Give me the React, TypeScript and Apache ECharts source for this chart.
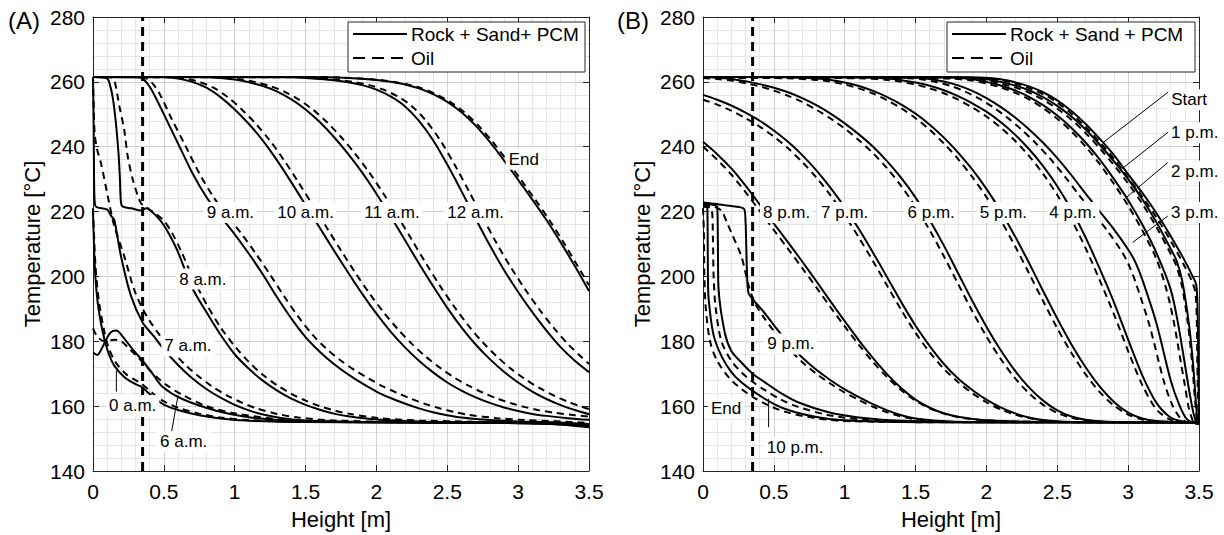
import React, { useEffect, useRef } from 'react';
import * as echarts from 'echarts';

type P = [number, number];

// ---------- shared axis values ----------
const X_MIN = 0;
const X_MAX = 3.5;
const X_STEP = 0.5;
const Y_MIN = 140;
const Y_MAX = 280;
const Y_STEP = 20;
const LAYER_MARK = 0.35; // vertical dashed reference line [m]

// ---------- Panel (A): charging ----------
const A_0AM_ROCK: P[] = [[0,220],[0.004,214],[0.014,202],[0.033,192],[0.068,183],[0.104,177],[0.15,172.5],[0.22,169],[0.29,167],[0.34,166],[0.42,163],[0.5,160.5],[0.6,158.8],[0.75,157.2],[0.9,156.2],[1.1,155.5],[1.5,155.1],[2.5,154.9],[3.2,154.6],[3.5,153.8]];
const A_0AM_OIL: P[] = [[0,221],[0.006,214],[0.018,203],[0.04,193],[0.075,184],[0.11,178],[0.16,173.5],[0.23,170],[0.3,168],[0.34,167],[0.42,164],[0.5,161.5],[0.6,159.5],[0.75,157.7],[0.9,156.5],[1.1,155.7],[1.5,155.2],[2.5,155],[3.2,154.7],[3.5,154]];
const A_6AM_ROCK: P[] = [[0,176.5],[0.03,175.8],[0.07,178.5],[0.12,182.5],[0.165,183.3],[0.2,182],[0.28,177.5],[0.35,174],[0.42,170],[0.49,166],[0.63,162.2],[0.87,158.6],[1.1,156.6],[1.34,155.6],[1.7,155.1],[2.5,154.9],[3.2,154.6],[3.5,153.5]];
const A_6AM_OIL: P[] = [[0,184],[0.03,181.5],[0.08,180],[0.15,180.5],[0.2,180],[0.26,177.5],[0.32,175],[0.38,172],[0.45,169],[0.52,166.5],[0.63,163.5],[0.8,160],[1.0,157.8],[1.3,156],[1.6,155.3],[2.5,155],[3.2,154.7],[3.5,154]];
const A_7AM_ROCK: P[] = [[0,261.5],[0.003,252],[0.006,238],[0.009,226],[0.015,222],[0.03,221.3],[0.1,220.6],[0.13,218.5],[0.15,217.5],[0.197,206.3],[0.268,194],[0.35,185.8],[0.43,181.5],[0.5,177.5],[0.6,172.7],[0.7,168.6],[0.8,165.3],[0.9,162.6],[1.0,160.4],[1.1,158.7],[1.2,157.4],[1.35,156.2],[1.5,155.6],[1.8,155.2],[2.5,155],[3.2,154.7],[3.5,153.8]];
const A_7AM_OIL: P[] = [[0,261.5],[0.004,254],[0.012,244],[0.03,239],[0.056,235],[0.104,224.8],[0.15,215.6],[0.22,206.3],[0.29,196],[0.35,190],[0.4,186.3],[0.46,182.5],[0.55,177.5],[0.65,172.8],[0.75,169],[0.85,165.8],[0.95,163.2],[1.05,161.1],[1.15,159.4],[1.3,157.6],[1.45,156.5],[1.7,155.6],[2.2,155.1],[3.2,154.8],[3.5,154]];
const A_8AM_ROCK: P[] = [[0,261.5],[0.1,261],[0.12,259],[0.14,255],[0.16,248],[0.18,238],[0.19,230],[0.197,223],[0.21,221.5],[0.27,221],[0.34,220.3],[0.375,221],[0.4,220.5],[0.45,218.5],[0.5,215.8],[0.55,212],[0.6,207.5],[0.7,196.5],[0.8,189],[0.9,182],[1.0,176],[1.1,171.5],[1.2,167.8],[1.3,164.8],[1.4,162.3],[1.5,160.4],[1.6,158.9],[1.7,157.7],[1.8,156.9],[2.0,155.9],[2.3,155.3],[2.7,155],[3.2,154.7],[3.5,153.8]];
const A_8AM_OIL: P[] = [[0,261.5],[0.12,261.4],[0.15,260.5],[0.186,252.5],[0.22,245.3],[0.245,237],[0.28,230],[0.315,225],[0.34,222.5],[0.37,221.5],[0.42,220],[0.5,217.2],[0.56,213.2],[0.62,208],[0.7,200],[0.8,191.5],[0.9,184.3],[1.0,178.5],[1.1,173.6],[1.2,169.6],[1.3,166.4],[1.4,163.8],[1.5,161.7],[1.6,160],[1.7,158.7],[1.8,157.7],[2.0,156.4],[2.3,155.6],[2.7,155.2],[3.2,154.8],[3.5,154]];
const A_9AM_ROCK: P[] = [[0,261.5],[0.3,261.4],[0.35,261],[0.4,258.5],[0.45,254.5],[0.5,250],[0.6,241],[0.7,232],[0.8,224.5],[0.9,218.5],[1.0,213],[1.1,207],[1.2,200.5],[1.3,193.5],[1.4,187],[1.5,181.3],[1.6,176.8],[1.7,173],[1.8,169.8],[1.9,167],[2.0,164.5],[2.1,162.5],[2.2,160.8],[2.3,159.3],[2.4,158.1],[2.5,157.2],[2.6,156.5],[2.8,155.7],[3.0,155.3],[3.25,155],[3.5,154.5]];
const A_9AM_OIL: P[] = [[0,261.5],[0.33,261.5],[0.38,261],[0.43,259],[0.48,255.5],[0.55,249],[0.65,240.5],[0.75,231.8],[0.85,224.5],[0.95,218.5],[1.05,213],[1.15,207],[1.25,200.5],[1.35,193.8],[1.45,187.5],[1.55,182],[1.65,177.6],[1.75,174],[1.85,171],[1.95,168.4],[2.05,166],[2.15,164],[2.25,162.2],[2.35,160.6],[2.45,159.3],[2.55,158.2],[2.65,157.3],[2.85,156.3],[3.05,155.7],[3.3,155.3],[3.5,154.8]];
const A_10AM_ROCK: P[] = [[0,261.5],[0.5,261.4],[0.6,261],[0.7,260],[0.8,258.2],[0.9,255.3],[1.0,251.5],[1.1,247],[1.2,241.8],[1.3,235.7],[1.4,229],[1.5,222],[1.6,215],[1.7,208],[1.8,201.2],[1.9,194.6],[2.0,188.5],[2.1,183],[2.2,178.2],[2.3,174],[2.4,170.4],[2.5,167.3],[2.6,164.8],[2.7,162.7],[2.8,161],[2.9,159.6],[3.0,158.5],[3.1,157.6],[3.2,157],[3.35,156.3],[3.5,155.8]];
const A_10AM_OIL: P[] = [[0,261.5],[0.55,261.4],[0.65,261],[0.75,260],[0.85,258.2],[0.95,255.3],[1.05,251.5],[1.15,247],[1.25,241.8],[1.35,235.7],[1.45,229],[1.55,222],[1.65,215],[1.75,208],[1.85,201.2],[1.95,194.8],[2.05,189],[2.15,183.8],[2.25,179.2],[2.35,175.2],[2.45,171.8],[2.55,168.8],[2.65,166.3],[2.75,164.2],[2.85,162.4],[2.95,160.9],[3.05,159.7],[3.15,158.7],[3.25,158],[3.4,157.2],[3.5,156.8]];
const A_11AM_ROCK: P[] = [[0,261.5],[0.8,261.4],[0.9,261.2],[1.0,260.7],[1.1,259.9],[1.2,258.7],[1.3,257],[1.4,254.6],[1.5,251.5],[1.6,247.6],[1.7,243],[1.8,237.8],[1.9,232],[2.0,225.5],[2.1,218.5],[2.2,211.3],[2.3,204],[2.4,197],[2.5,190.3],[2.6,184.3],[2.7,179],[2.8,174.5],[2.9,170.6],[3.0,167.3],[3.1,164.5],[3.2,162.2],[3.3,160.3],[3.4,158.8],[3.5,157.5]];
const A_11AM_OIL: P[] = [[0,261.5],[0.85,261.4],[0.95,261.2],[1.05,260.7],[1.15,259.9],[1.25,258.7],[1.35,257],[1.45,254.6],[1.55,251.5],[1.65,247.6],[1.75,243],[1.85,237.8],[1.95,232],[2.05,225.5],[2.15,218.5],[2.25,211.3],[2.35,204],[2.45,197],[2.55,190.6],[2.65,184.8],[2.75,179.7],[2.85,175.3],[2.95,171.5],[3.05,168.3],[3.15,165.6],[3.25,163.3],[3.35,161.4],[3.45,159.8],[3.5,159.1]];
const A_12AM_ROCK: P[] = [[0,261.5],[1.4,261.4],[1.5,261.2],[1.6,260.9],[1.7,260.5],[1.8,259.9],[1.9,259],[2.0,257.6],[2.1,255.5],[2.2,252.5],[2.3,248],[2.4,242],[2.5,234.5],[2.6,226.3],[2.7,217.8],[2.8,209.6],[2.9,202],[3.0,195.2],[3.1,189],[3.2,183.3],[3.3,178.2],[3.4,174],[3.5,170.5]];
const A_12AM_OIL: P[] = [[0,261.5],[1.45,261.4],[1.55,261.2],[1.65,260.9],[1.75,260.5],[1.85,259.9],[1.95,259],[2.05,257.6],[2.15,255.5],[2.25,252.5],[2.35,248],[2.45,242],[2.55,234.6],[2.65,226.5],[2.75,218.2],[2.85,210.1],[2.95,202.7],[3.05,196],[3.15,189.8],[3.25,184.2],[3.35,179.2],[3.45,175],[3.5,173]];
const A_END_ROCK: P[] = [[0,261.5],[1.5,261.5],[1.8,261.2],[2.0,260.6],[2.1,260],[2.2,259.2],[2.3,258],[2.4,256.2],[2.5,253.8],[2.6,250.6],[2.7,246.5],[2.8,241.5],[2.9,235.8],[3.0,229.8],[3.1,223.7],[3.2,217.4],[3.3,210.5],[3.4,203.2],[3.5,195.5]];
const A_END_OIL: P[] = [[0,261.5],[1.52,261.5],[1.82,261.2],[2.02,260.6],[2.12,260],[2.22,259.2],[2.32,258],[2.42,256.2],[2.52,253.8],[2.62,250.6],[2.72,246.5],[2.82,241.5],[2.92,235.8],[3.02,229.8],[3.12,223.7],[3.22,217.4],[3.32,210.5],[3.42,203.2],[3.5,197.3]];

// ---------- Panel (B): discharging ----------
const B_START_ROCK: P[] = [[0,261.5],[1.9,261.4],[2.1,260.8],[2.2,259.9],[2.3,258.6],[2.4,256.8],[2.5,254.3],[2.6,251],[2.7,247],[2.8,242.4],[2.9,237.4],[3.0,231.5],[3.1,225.8],[3.2,219.5],[3.3,212.5],[3.4,204.8],[3.45,200.5],[3.48,197.5],[3.49,190],[3.495,172],[3.5,155]];
const B_START_OIL: P[] = [[0,261.3],[1.9,261.2],[2.1,260.5],[2.2,259.5],[2.3,258.1],[2.4,256.2],[2.5,253.6],[2.6,250.2],[2.7,246.1],[2.8,241.4],[2.9,236.3],[3.0,230.4],[3.1,224.6],[3.2,218.2],[3.3,211],[3.4,203],[3.45,198.5],[3.475,195],[3.485,185],[3.49,168],[3.5,154.5]];
const B_1PM_ROCK: P[] = [[0,261.5],[1.8,261.4],[2.0,260.8],[2.1,260],[2.2,258.9],[2.3,257.4],[2.4,255.3],[2.5,252.6],[2.6,249.3],[2.7,245.3],[2.8,240.6],[2.9,235.5],[3.0,230],[3.1,223.8],[3.2,216.7],[3.3,208.5],[3.34,205],[3.38,199],[3.43,185],[3.46,172],[3.48,160],[3.49,155]];
const B_1PM_OIL: P[] = [[0,261.3],[1.8,261.1],[2.0,260.4],[2.1,259.5],[2.2,258.3],[2.3,256.7],[2.4,254.5],[2.5,251.7],[2.6,248.3],[2.7,244.2],[2.8,239.5],[2.9,234.3],[3.0,228.7],[3.1,222.4],[3.2,215.2],[3.3,207],[3.34,203.3],[3.38,197],[3.42,186],[3.45,174],[3.47,163],[3.485,155]];
const B_2PM_ROCK: P[] = [[0,261.5],[1.7,261.4],[1.9,260.8],[2.0,260],[2.1,258.9],[2.2,257.4],[2.3,255.4],[2.4,252.8],[2.5,249.6],[2.6,245.8],[2.7,241.3],[2.8,236],[2.9,230],[3.0,223.5],[3.1,216],[3.2,207.2],[3.3,196],[3.35,186],[3.4,173],[3.43,165],[3.46,158],[3.48,155]];
const B_2PM_OIL: P[] = [[0,261.3],[1.7,261.1],[1.9,260.4],[2.0,259.5],[2.1,258.3],[2.2,256.7],[2.3,254.6],[2.4,251.9],[2.5,248.6],[2.6,244.7],[2.7,240],[2.8,234.6],[2.9,228.5],[3.0,221.8],[3.1,214.2],[3.2,205.3],[3.27,196],[3.32,186.5],[3.37,174],[3.4,166.5],[3.43,159],[3.46,155]];
const B_3PM_ROCK: P[] = [[0,261.5],[1.5,261.3],[1.6,260.9],[1.7,260.1],[1.8,258.9],[1.9,257.2],[2.0,255],[2.1,252.3],[2.2,249.1],[2.3,245.4],[2.4,241.2],[2.5,236.5],[2.6,231.2],[2.7,225.5],[2.8,220],[2.9,214.5],[3.0,208.3],[3.05,204.5],[3.1,199],[3.2,185.5],[3.3,168],[3.36,160.5],[3.41,156.2],[3.45,155],[3.5,154.5]];
const B_3PM_OIL: P[] = [[0,261.3],[1.45,261.1],[1.55,260.7],[1.65,259.9],[1.75,258.7],[1.85,257],[1.95,254.8],[2.05,252.1],[2.15,248.9],[2.25,245.2],[2.35,241],[2.45,236.3],[2.55,231],[2.65,225.3],[2.75,219.8],[2.85,214.3],[2.95,208],[3.0,204],[3.05,198.5],[3.15,185],[3.25,168],[3.31,160.5],[3.37,156.2],[3.42,155],[3.5,154.5]];
const B_4PM_ROCK: P[] = [[0,261.5],[1.1,261.4],[1.3,261],[1.4,260.5],[1.5,259.8],[1.6,258.8],[1.7,257.4],[1.8,255.6],[1.9,253.4],[2.0,250.8],[2.1,247.6],[2.2,243.8],[2.3,239.3],[2.4,234],[2.5,227.8],[2.6,220.5],[2.7,212],[2.8,202.3],[2.9,192],[3.0,180.5],[3.1,169.5],[3.2,161],[3.3,156.5],[3.4,155.2],[3.5,155]];
const B_4PM_OIL: P[] = [[0,261.3],[1.1,261.1],[1.3,260.6],[1.4,260],[1.5,259.2],[1.6,258],[1.7,256.5],[1.8,254.5],[1.9,252.1],[2.0,249.3],[2.1,245.9],[2.2,241.9],[2.3,237.2],[2.4,231.6],[2.5,225.1],[2.6,217.5],[2.7,208.7],[2.8,198.8],[2.9,188.3],[3.0,177],[3.1,166.5],[3.2,159],[3.3,155.8],[3.4,155.1],[3.5,155]];
const B_5PM_ROCK: P[] = [[0,261.5],[0.6,261.4],[0.8,261],[0.9,260.6],[1.0,259.8],[1.1,258.7],[1.2,257.2],[1.3,255.3],[1.4,253],[1.5,250.2],[1.6,246.8],[1.7,242.8],[1.8,238.2],[1.9,233],[2.0,227],[2.1,220.2],[2.2,212.5],[2.3,204.2],[2.4,195.5],[2.5,187],[2.6,179],[2.7,172],[2.8,166],[2.9,161.3],[3.0,158],[3.1,156.2],[3.2,155.4],[3.35,155.1],[3.5,155]];
const B_5PM_OIL: P[] = [[0,261.3],[0.6,261.1],[0.8,260.6],[0.9,260.1],[1.0,259.2],[1.1,258],[1.2,256.4],[1.3,254.3],[1.4,251.8],[1.5,248.8],[1.6,245.2],[1.7,241],[1.8,236.2],[1.9,230.7],[2.0,224.5],[2.1,217.4],[2.2,209.5],[2.3,201],[2.4,192.4],[2.5,184],[2.6,176.4],[2.7,169.8],[2.8,164.3],[2.9,160.2],[3.0,157.4],[3.1,155.9],[3.2,155.3],[3.35,155.1],[3.5,155]];
const B_6PM_ROCK: P[] = [[0,261.5],[0.1,261.3],[0.2,260.9],[0.3,260.2],[0.4,259.3],[0.5,258.2],[0.6,256.8],[0.7,255],[0.8,252.8],[0.9,250.2],[1.0,247.2],[1.1,243.8],[1.2,240],[1.3,235.5],[1.4,230.3],[1.5,224.3],[1.6,217.3],[1.7,209.5],[1.8,201],[1.9,192.5],[2.0,184.5],[2.1,177.3],[2.2,171],[2.3,165.8],[2.4,161.7],[2.5,158.7],[2.6,156.8],[2.7,155.8],[2.85,155.2],[3.1,155],[3.5,155]];
const B_6PM_OIL: P[] = [[0,261.2],[0.1,260.9],[0.2,260.4],[0.3,259.6],[0.4,258.6],[0.5,257.3],[0.6,255.7],[0.7,253.8],[0.8,251.4],[0.9,248.7],[1.0,245.6],[1.1,242],[1.2,238],[1.3,233.3],[1.4,227.8],[1.5,221.5],[1.6,214.2],[1.7,206.2],[1.8,197.7],[1.9,189.3],[2.0,181.5],[2.1,174.6],[2.2,168.7],[2.3,164],[2.4,160.4],[2.5,157.9],[2.6,156.4],[2.7,155.6],[2.85,155.1],[3.1,155],[3.5,155]];
const B_7PM_ROCK: P[] = [[0,256],[0.1,254.5],[0.2,252.7],[0.3,250.5],[0.4,248],[0.5,245],[0.6,241.5],[0.7,237.4],[0.8,232.7],[0.9,227.3],[1.0,221.3],[1.1,214.6],[1.2,207.3],[1.3,199.7],[1.4,192],[1.5,184.8],[1.6,178.5],[1.7,173],[1.8,168.5],[1.9,165],[2.0,162],[2.1,159.6],[2.2,157.8],[2.3,156.5],[2.4,155.7],[2.55,155.2],[2.8,155],[3.5,155]];
const B_7PM_OIL: P[] = [[0,254.5],[0.1,253],[0.2,251.1],[0.3,248.8],[0.4,246.2],[0.5,243.1],[0.6,239.5],[0.7,235.3],[0.8,230.5],[0.9,225],[1.0,218.8],[1.1,212],[1.2,204.7],[1.3,197.1],[1.4,189.6],[1.5,182.6],[1.6,176.6],[1.7,171.5],[1.8,167.4],[1.9,164],[2.0,161.2],[2.1,159],[2.2,157.4],[2.3,156.3],[2.4,155.6],[2.55,155.1],[2.8,155],[3.5,155]];
const B_8PM_ROCK: P[] = [[0,241.5],[0.1,237.7],[0.2,233.3],[0.3,228],[0.4,222.2],[0.5,216.3],[0.6,210.5],[0.7,204.6],[0.8,198.5],[0.9,192.3],[1.0,186.2],[1.1,180.3],[1.2,174.8],[1.3,169.8],[1.4,165.5],[1.5,162],[1.6,159.5],[1.7,157.8],[1.8,156.7],[1.95,155.8],[2.2,155.3],[2.6,155.1],[3.5,155]];
const B_8PM_OIL: P[] = [[0,240],[0.1,236],[0.2,231.4],[0.3,226],[0.4,220.2],[0.5,214.3],[0.6,208.5],[0.7,202.6],[0.8,196.6],[0.9,190.5],[1.0,184.6],[1.1,178.9],[1.2,173.6],[1.3,168.9],[1.4,164.9],[1.5,161.7],[1.6,159.3],[1.7,157.7],[1.8,156.6],[1.95,155.8],[2.2,155.3],[2.6,155.1],[3.5,155]];
const B_9PM_ROCK: P[] = [[0,222.8],[0.1,222.3],[0.2,221.7],[0.29,220.8],[0.3,217],[0.305,210],[0.31,202],[0.32,195],[0.35,193],[0.42,189.5],[0.5,185],[0.6,179.5],[0.7,175],[0.8,171.2],[0.9,168],[1.0,165.2],[1.1,162.8],[1.2,160.6],[1.3,158.7],[1.4,157.2],[1.5,156.2],[1.65,155.5],[1.9,155.1],[3.5,155]];
const B_9PM_OIL: P[] = [[0,222],[0.08,221.5],[0.13,220.3],[0.17,216.5],[0.2,213.5],[0.27,206.3],[0.317,198],[0.364,192],[0.435,187],[0.5,183.2],[0.6,178],[0.7,173.6],[0.8,170],[0.9,166.9],[1.0,164.2],[1.1,161.9],[1.2,159.8],[1.3,158.1],[1.4,156.8],[1.5,155.9],[1.65,155.3],[1.9,155.05],[3.5,155]];
const B_10PM_ROCK: P[] = [[0,222.5],[0.08,222],[0.1,221.5],[0.104,215],[0.106,205],[0.11,196],[0.153,182.8],[0.2,177],[0.27,173.5],[0.35,170],[0.435,167.4],[0.55,164],[0.67,161.2],[0.88,158.2],[1.1,156.5],[1.4,155.5],[2.0,155],[3.5,155]];
const B_10PM_OIL: P[] = [[0,221.5],[0.06,221],[0.07,212],[0.075,200],[0.09,190],[0.13,180],[0.2,174],[0.27,170.5],[0.35,167.5],[0.435,165],[0.55,162],[0.67,159.8],[0.88,157.3],[1.1,156],[1.4,155.3],[2.0,155],[3.5,155]];
const B_END_ROCK: P[] = [[0,222],[0.03,221.5],[0.033,212],[0.035,200],[0.04,193],[0.082,180.7],[0.2,170.5],[0.364,164.3],[0.576,159.2],[0.88,156.1],[1.2,155.3],[2.0,155],[3.5,155]];
const B_END_OIL: P[] = [[0,221],[0.006,214],[0.01,200],[0.02,190],[0.05,180],[0.1,174],[0.2,168],[0.364,162.5],[0.576,158.3],[0.88,155.8],[1.2,155.2],[2.0,155],[3.5,155]];

// ---------- annotations (text, x [m], T [°C]) ----------
const NOTES_A: [string, number, number][] = [
  ['9 a.m.', 0.97, 219.7], ['10 a.m.', 1.5, 219.7], ['11 a.m.', 2.11, 219.7], ['12 a.m.', 2.7, 219.7],
  ['End', 3.04, 236.1], ['8 a.m.', 0.775, 199.2], ['7 a.m.', 0.67, 178.6], ['0 a.m.', 0.28, 160.2], ['6 a.m.', 0.64, 149.1],
];
const NOTES_B: [string, number, number][] = [
  ['8 p.m.', 0.59, 219.7], ['7 p.m.', 1.0, 219.7], ['6 p.m.', 1.61, 219.7], ['5 p.m.', 2.12, 219.7], ['4 p.m.', 2.61, 219.7],
  ['9 p.m.', 0.62, 179.2], ['10 p.m.', 0.65, 147.4], ['End', 0.163, 159.2],
  ['Start', 3.43, 254.5], ['1 p.m.', 3.47, 244.3], ['2 p.m.', 3.47, 232.5], ['3 p.m.', 3.47, 219.7],
];
const LEADERS_A: P[][] = [
  [[0.165, 164.5], [0.165, 171]],
  [[0.552, 151.5], [0.6, 163.3]],
];
const LEADERS_B: P[][] = [
  [[3.29, 257.1], [2.821, 241.2]],
  [[3.291, 244.8], [2.951, 233.0]],
  [[3.279, 235.1], [2.986, 224.3]],
  [[3.279, 218.6], [3.032, 210.5]],
  [[0.463, 153.5], [0.463, 162.3]],
];

const CURVES_A: [string, P[], P[]][] = [
  ['0 a.m.', A_0AM_ROCK, A_0AM_OIL], ['6 a.m.', A_6AM_ROCK, A_6AM_OIL], ['7 a.m.', A_7AM_ROCK, A_7AM_OIL],
  ['8 a.m.', A_8AM_ROCK, A_8AM_OIL], ['9 a.m.', A_9AM_ROCK, A_9AM_OIL], ['10 a.m.', A_10AM_ROCK, A_10AM_OIL],
  ['11 a.m.', A_11AM_ROCK, A_11AM_OIL], ['12 a.m.', A_12AM_ROCK, A_12AM_OIL], ['End', A_END_ROCK, A_END_OIL],
];
const CURVES_B: [string, P[], P[]][] = [
  ['Start', B_START_ROCK, B_START_OIL], ['1 p.m.', B_1PM_ROCK, B_1PM_OIL], ['2 p.m.', B_2PM_ROCK, B_2PM_OIL],
  ['3 p.m.', B_3PM_ROCK, B_3PM_OIL], ['4 p.m.', B_4PM_ROCK, B_4PM_OIL], ['5 p.m.', B_5PM_ROCK, B_5PM_OIL],
  ['6 p.m.', B_6PM_ROCK, B_6PM_OIL], ['7 p.m.', B_7PM_ROCK, B_7PM_OIL], ['8 p.m.', B_8PM_ROCK, B_8PM_OIL],
  ['9 p.m.', B_9PM_ROCK, B_9PM_OIL], ['10 p.m.', B_10PM_ROCK, B_10PM_OIL], ['End', B_END_ROCK, B_END_OIL],
];

const FONT = "'Liberation Sans', Arial, Helvetica, sans-serif";
const INK = '#000';
const FRAME = '#262626';

function buildOption() {
  const grids = [
    { left: 93, top: 17, width: 496, height: 456 },
    { left: 703, top: 17, width: 496, height: 456 },
  ];
  const xAxis: any[] = [];
  const yAxis: any[] = [];
  grids.forEach((_, gi) => {
    xAxis.push({
      type: 'value', gridIndex: gi, min: X_MIN, max: X_MAX, interval: X_STEP, position: 'bottom',
      name: 'Height [m]', nameLocation: 'middle', nameGap: 37,
      nameTextStyle: { fontSize: 22, color: INK, fontFamily: FONT },
      axisLine: { show: true, onZero: false, lineStyle: { color: FRAME, width: 1 } },
      axisTick: { show: true, inside: true, length: 6, lineStyle: { color: FRAME } },
      axisLabel: { fontSize: 21, color: INK, margin: 10, fontFamily: FONT },
      splitLine: { show: true, lineStyle: { color: '#cfcfcf', width: 1 } },
      minorTick: { show: false, splitNumber: 5 },
      minorSplitLine: { show: true, lineStyle: { color: '#e6e6e6', width: 1 } },
    });
    xAxis.push({
      type: 'value', gridIndex: gi, min: X_MIN, max: X_MAX, interval: X_STEP, position: 'top',
      axisLine: { show: true, onZero: false, lineStyle: { color: FRAME, width: 1 } },
      axisTick: { show: true, inside: true, length: 6, lineStyle: { color: FRAME } },
      axisLabel: { show: false }, splitLine: { show: false },
    });
    yAxis.push({
      type: 'value', gridIndex: gi, min: Y_MIN, max: Y_MAX, interval: Y_STEP, position: 'left',
      name: 'Temperature [°C]', nameLocation: 'middle', nameGap: 50,
      nameTextStyle: { fontSize: 22, color: INK, fontFamily: FONT },
      axisLine: { show: true, onZero: false, lineStyle: { color: FRAME, width: 1 } },
      axisTick: { show: true, inside: true, length: 6, lineStyle: { color: FRAME } },
      axisLabel: { fontSize: 21, color: INK, margin: 8, fontFamily: FONT },
      splitLine: { show: true, lineStyle: { color: '#cfcfcf', width: 1 } },
      minorTick: { show: false, splitNumber: 5 },
      minorSplitLine: { show: true, lineStyle: { color: '#e6e6e6', width: 1 } },
    });
    yAxis.push({
      type: 'value', gridIndex: gi, min: Y_MIN, max: Y_MAX, interval: Y_STEP, position: 'right',
      axisLine: { show: true, onZero: false, lineStyle: { color: FRAME, width: 1 } },
      axisTick: { show: true, inside: true, length: 6, lineStyle: { color: FRAME } },
      axisLabel: { show: false }, splitLine: { show: false },
    });
  });

  const series: any[] = [];
  const addPanel = (gi: number, curves: [string, P[], P[]][], notes: [string, number, number][], leaders: P[][], rockName: string) => {
    const xi = gi * 2;
    const yi = gi * 2;
    curves.forEach(([label, rock, oil]) => {
      series.push({
        type: 'line', name: rockName, id: `p${gi}-${label}-rock`, xAxisIndex: xi, yAxisIndex: yi,
        data: rock, showSymbol: false, symbol: 'none', smooth: 0.3, z: 3,
        lineStyle: { color: INK, width: 2 }, emphasis: { disabled: true },
      });
      series.push({
        type: 'line', name: 'Oil', id: `p${gi}-${label}-oil`, xAxisIndex: xi, yAxisIndex: yi,
        data: oil, showSymbol: false, symbol: 'none', smooth: 0.3, z: 3,
        lineStyle: { color: INK, width: 2, type: [7, 5] }, emphasis: { disabled: true },
      });
    });
    series.push({
      type: 'line', id: `p${gi}-mark`, xAxisIndex: xi, yAxisIndex: yi,
      data: [[LAYER_MARK, Y_MIN], [LAYER_MARK, Y_MAX]], showSymbol: false, symbol: 'none', z: 4,
      lineStyle: { color: INK, width: 3, type: [9, 6] }, emphasis: { disabled: true },
    });
    leaders.forEach((seg, i) => {
      series.push({
        type: 'line', id: `p${gi}-leader-${i}`, xAxisIndex: xi, yAxisIndex: yi, data: seg,
        showSymbol: false, symbol: 'none', z: 5, clip: false,
        lineStyle: { color: INK, width: 1 }, emphasis: { disabled: true },
      });
    });
    series.push({
      type: 'custom', id: `p${gi}-notes`, xAxisIndex: xi, yAxisIndex: yi, z: 20, clip: false,
      data: notes.map(([, x, y]) => [x, y]),
      renderItem: (params: any, api: any) => {
        const pt = api.coord([api.value(0), api.value(1)]);
        return {
          type: 'text', x: pt[0], y: pt[1], z2: 100,
          style: {
            text: notes[params.dataIndex][0], fill: INK, fontSize: 17, fontFamily: FONT,
            align: 'center', verticalAlign: 'middle', backgroundColor: '#fff', padding: [2, 3],
          },
        };
      },
    });
  };
  addPanel(0, CURVES_A, NOTES_A, LEADERS_A, 'Rock + Sand+ PCM');
  addPanel(1, CURVES_B, NOTES_B, LEADERS_B, 'Rock + Sand + PCM');

  const legendBox = (x: number, w: number, rockLabel: string) => ([
    { type: 'rect', z: 100, shape: { x, y: 22, width: w, height: 50 }, style: { fill: '#fff', stroke: FRAME, lineWidth: 1 } },
    { type: 'line', z: 101, shape: { x1: x + 5, y1: 34, x2: x + 59, y2: 34 }, style: { stroke: INK, lineWidth: 2 } },
    { type: 'text', z: 101, x: x + 63, y: 34, style: { text: rockLabel, fontSize: 19, fontFamily: FONT, fill: INK, verticalAlign: 'middle', align: 'left' } },
    { type: 'line', z: 101, shape: { x1: x + 5, y1: 58, x2: x + 59, y2: 58 }, style: { stroke: INK, lineWidth: 2, lineDash: [12, 7] } },
    { type: 'text', z: 101, x: x + 63, y: 58, style: { text: 'Oil', fontSize: 19, fontFamily: FONT, fill: INK, verticalAlign: 'middle', align: 'left' } },
  ]);

  return {
    animation: false,
    backgroundColor: '#fff',
    textStyle: { fontFamily: FONT },
    grid: grids,
    xAxis, yAxis, series,
    graphic: [
      ...legendBox(348, 237, 'Rock + Sand+ PCM'),
      ...legendBox(947, 248, 'Rock + Sand + PCM'),
      { type: 'text', x: 8, y: 20, z: 100, style: { text: '(A)', fontSize: 24, fontFamily: FONT, fill: INK, verticalAlign: 'middle' } },
      { type: 'text', x: 617, y: 20, z: 100, style: { text: '(B)', fontSize: 24, fontFamily: FONT, fill: INK, verticalAlign: 'middle' } },
    ],
  };
}

export default function App() {
  const ref = useRef<HTMLDivElement>(null);
  useEffect(() => {
    if (!ref.current) return;
    const chart = echarts.init(ref.current, null, { renderer: 'svg' });
    chart.setOption(buildOption() as any);
    return () => chart.dispose();
  }, []);
  return (
    <div
      ref={ref}
      style={{ position: 'fixed', left: 0, top: 0, width: 1224, height: 535, background: '#fff' }}
    />
  );
}
